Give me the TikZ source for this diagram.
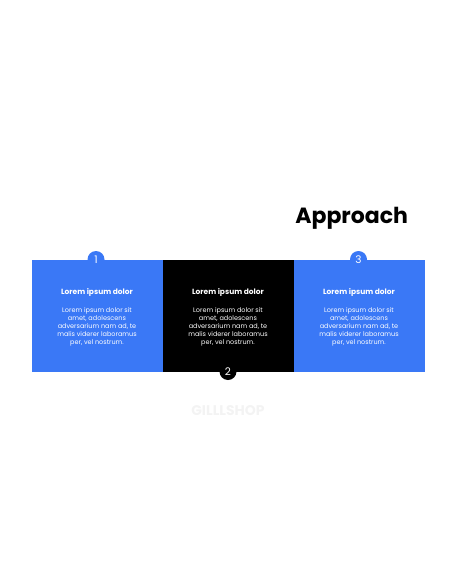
\documentclass[tikz,border=0pt]{standalone}
\usepackage{fontspec}
\setmainfont{Poppins}
\definecolor{accent}{HTML}{3A78F6}
\definecolor{wm}{HTML}{F3F3F3}
\begin{document}
\begin{tikzpicture}[x=1pt,y=-1pt,
  panel/.style={minimum width=131pt,minimum height=112pt,inner sep=0pt,anchor=north west,draw=none},
  badge/.style={circle,minimum size=17pt,inner sep=0pt,text=white,font=\fontsize{10.5}{10.5}\selectfont},
  head/.style={text=white,font=\bfseries\fontsize{7.5}{8}\selectfont},
  body/.style={text=white,align=center,font=\fontsize{6.5}{7.8}\selectfont}]
\useasboundingbox (0,0) rectangle (456,586);
\node[panel,fill=accent] (p1) at (31.5,259.5) {};
\node[panel,fill=black] (p2) at (162.5,259.5) {};
\node[panel,fill=accent] (p3) at (293.5,259.5) {};
\node[badge,fill=accent] (b1) at (96,259.5) {1};
\node[badge,fill=black] (b2) at (228,371.5) {2};
\node[badge,fill=accent] (b3) at (358.5,259.5) {3};
\foreach \i/\x in {1/97,2/228,3/359}{
  \node[head] (h\i) at (\x,292.5) {Lorem ipsum dolor};
  \node[body,anchor=north] (t\i) at (\x,304.5) {Lorem ipsum dolor sit\\amet, adolescens\\adversarium nam ad, te\\malis viderer laboramus\\per, vel nostrum.};
}
\node[font=\bfseries\fontsize{22}{22}\selectfont,anchor=east] (title) at (411.5,218.5) {Approach};
\node[font=\bfseries\fontsize{14}{14}\selectfont,text=wm] (wmk) at (228,411) {GILLLSHOP};
\end{tikzpicture}
\end{document}
